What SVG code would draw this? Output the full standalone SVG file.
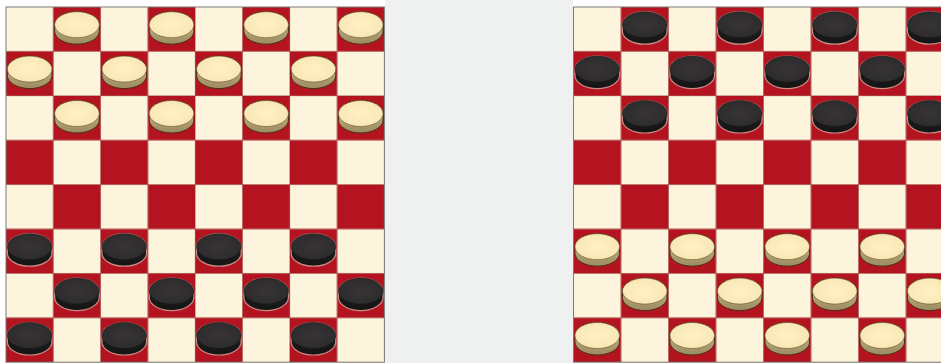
<svg xmlns="http://www.w3.org/2000/svg" xmlns:xlink="http://www.w3.org/1999/xlink" width="941" height="363" viewBox="0 0 941 363">
<style>
.grid{stroke:#6b1f1f;stroke-opacity:0.35;stroke-width:0.8;fill:none}
.frame{fill:none;stroke:#7a7a7a;stroke-width:1}
</style>
<defs>
<pattern id="bl" patternUnits="userSpaceOnUse" x="6" y="7" width="94.6" height="88.8">
<rect x="0" y="0" width="94.6" height="88.8" fill="#fcf4dc"/>
<rect x="47.3" y="0" width="47.3" height="44.4" fill="#b41420"/>
<rect x="0" y="44.4" width="47.3" height="44.4" fill="#b41420"/>
</pattern>
<pattern id="br" patternUnits="userSpaceOnUse" x="573.5" y="7" width="95" height="88.8">
<rect x="0" y="0" width="95" height="88.8" fill="#fcf4dc"/>
<rect x="47.5" y="0" width="47.5" height="44.4" fill="#b41420"/>
<rect x="0" y="44.4" width="47.5" height="44.4" fill="#b41420"/>
</pattern>
<linearGradient id="lside" x1="0" y1="0" x2="0" y2="1">
<stop offset="0" stop-color="#d6c496"/><stop offset="1" stop-color="#9c8a60"/>
</linearGradient>
<radialGradient id="ltop" cx="0.5" cy="0.5" r="0.6">
<stop offset="0" stop-color="#fff1c6"/><stop offset="1" stop-color="#f8e6b2"/>
</radialGradient>
<linearGradient id="dside" x1="0" y1="0" x2="0" y2="1">
<stop offset="0" stop-color="#262525"/><stop offset="1" stop-color="#141414"/>
</linearGradient>
<radialGradient id="dtop" cx="0.5" cy="0.5" r="0.6">
<stop offset="0" stop-color="#363434"/><stop offset="1" stop-color="#2c2a2a"/>
</radialGradient>
<g id="light">
<path d="M -22.3 -4.5 L -22.3 2 A 22.3 13 0 0 0 22.3 2 L 22.3 -4.5 A 22.3 13 0 0 0 -22.3 -4.5 Z" fill="url(#lside)" stroke="#4a2e14" stroke-width="1"/>
<ellipse cx="0" cy="-4.5" rx="22.3" ry="13" fill="url(#ltop)" stroke="#6a5030" stroke-width="0.6"/>
</g>
<g id="dark">
<path d="M -22.3 -4.5 L -22.3 2 A 22.3 13 0 0 0 22.3 2 L 22.3 -4.5 A 22.3 13 0 0 0 -22.3 -4.5 Z" fill="url(#dside)" stroke="#c98a84" stroke-width="1.2"/>
<ellipse cx="0" cy="-4.5" rx="22.3" ry="13" fill="url(#dtop)" stroke="#1a1a1a" stroke-width="0.6"/>
</g>
</defs>
<rect x="0" y="0" width="941" height="363" fill="#ffffff"/>
<rect x="385" y="0" width="188" height="363" fill="#eff0f0"/>
<g id="board-left">
<rect x="6" y="7" width="378.4" height="355.2" fill="url(#bl)"/>
<path class="grid" d="M53.3 7V362.2M100.6 7V362.2M147.9 7V362.2M195.2 7V362.2M242.5 7V362.2M289.8 7V362.2M337.1 7V362.2M6 51.4H384.4M6 95.8H384.4M6 140.2H384.4M6 184.6H384.4M6 229H384.4M6 273.4H384.4M6 317.8H384.4"/>
<rect class="frame" x="6" y="7" width="378.4" height="355.2"/>
</g>
<g id="board-right">
<rect x="573.5" y="7" width="380" height="355.2" fill="url(#br)"/>
<path class="grid" d="M621 7V362.2M668.5 7V362.2M716 7V362.2M763.5 7V362.2M811 7V362.2M858.5 7V362.2M906 7V362.2M573.5 51.4H941M573.5 95.8H941M573.5 140.2H941M573.5 184.6H941M573.5 229H941M573.5 273.4H941M573.5 317.8H941"/>
<rect class="frame" x="573.5" y="7" width="380" height="355.2"/>
</g>
<g id="pieces-left-light">
<use xlink:href="#light" x="76.95" y="29.2"/><use xlink:href="#light" x="171.55" y="29.2"/><use xlink:href="#light" x="266.15" y="29.2"/><use xlink:href="#light" x="360.75" y="29.2"/>
<use xlink:href="#light" x="29.65" y="73.6"/><use xlink:href="#light" x="124.25" y="73.6"/><use xlink:href="#light" x="218.85" y="73.6"/><use xlink:href="#light" x="313.45" y="73.6"/>
<use xlink:href="#light" x="76.95" y="118"/><use xlink:href="#light" x="171.55" y="118"/><use xlink:href="#light" x="266.15" y="118"/><use xlink:href="#light" x="360.75" y="118"/>
</g>
<g id="pieces-left-dark">
<use xlink:href="#dark" x="29.65" y="251.2"/><use xlink:href="#dark" x="124.25" y="251.2"/><use xlink:href="#dark" x="218.85" y="251.2"/><use xlink:href="#dark" x="313.45" y="251.2"/>
<use xlink:href="#dark" x="76.95" y="295.6"/><use xlink:href="#dark" x="171.55" y="295.6"/><use xlink:href="#dark" x="266.15" y="295.6"/><use xlink:href="#dark" x="360.75" y="295.6"/>
<use xlink:href="#dark" x="29.65" y="340"/><use xlink:href="#dark" x="124.25" y="340"/><use xlink:href="#dark" x="218.85" y="340"/><use xlink:href="#dark" x="313.45" y="340"/>
</g>
<g id="pieces-right-dark">
<use xlink:href="#dark" x="644.75" y="29.2"/><use xlink:href="#dark" x="739.75" y="29.2"/><use xlink:href="#dark" x="834.75" y="29.2"/><use xlink:href="#dark" x="929.75" y="29.2"/>
<use xlink:href="#dark" x="597.25" y="73.6"/><use xlink:href="#dark" x="692.25" y="73.6"/><use xlink:href="#dark" x="787.25" y="73.6"/><use xlink:href="#dark" x="882.25" y="73.6"/>
<use xlink:href="#dark" x="644.75" y="118"/><use xlink:href="#dark" x="739.75" y="118"/><use xlink:href="#dark" x="834.75" y="118"/><use xlink:href="#dark" x="929.75" y="118"/>
</g>
<g id="pieces-right-light">
<use xlink:href="#light" x="597.25" y="251.2"/><use xlink:href="#light" x="692.25" y="251.2"/><use xlink:href="#light" x="787.25" y="251.2"/><use xlink:href="#light" x="882.25" y="251.2"/>
<use xlink:href="#light" x="644.75" y="295.6"/><use xlink:href="#light" x="739.75" y="295.6"/><use xlink:href="#light" x="834.75" y="295.6"/><use xlink:href="#light" x="929.75" y="295.6"/>
<use xlink:href="#light" x="597.25" y="340"/><use xlink:href="#light" x="692.25" y="340"/><use xlink:href="#light" x="787.25" y="340"/><use xlink:href="#light" x="882.25" y="340"/>
</g>
</svg>
